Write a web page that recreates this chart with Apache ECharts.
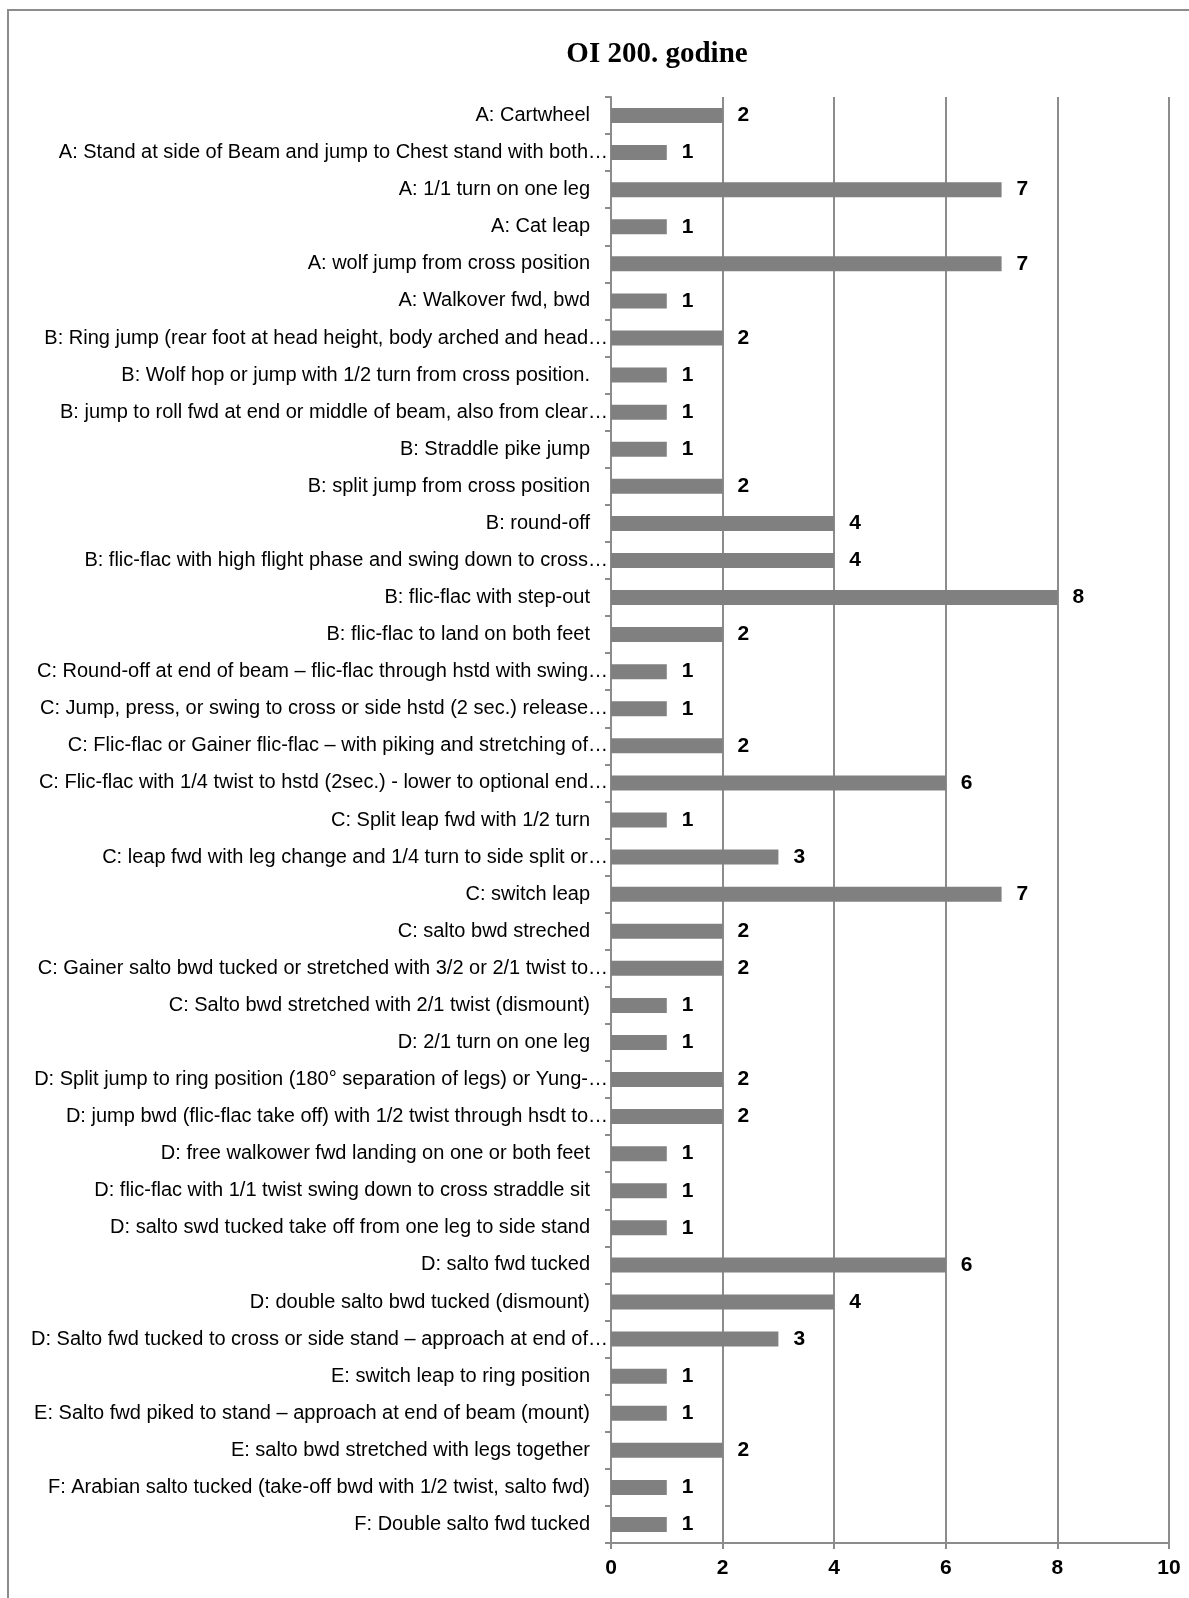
<!DOCTYPE html>
<html>
<head>
<meta charset="utf-8">
<script src="https://cdn.jsdelivr.net/npm/echarts@6/dist/echarts.min.js"></script>
<style>
html,body{margin:0;padding:0;background:#fff;}
#chart{width:1189px;height:1598px;}
</style>
</head>
<body>
<div id="chart"></div>
<script>
var titleText = 'OI 200. godine';
var categories = [
'A: Cartwheel',
'A: Stand at side of Beam and jump to Chest stand with both…',
'A: 1/1 turn on one leg',
'A: Cat leap',
'A: wolf jump from cross position',
'A: Walkover fwd, bwd',
'B: Ring jump (rear foot at head height, body arched and head…',
'B: Wolf hop or jump with 1/2 turn from cross position.',
'B: jump to roll fwd at end or middle of beam, also from clear…',
'B: Straddle pike jump',
'B: split jump from cross position',
'B: round-off',
'B: flic-flac with high flight phase and swing down to cross…',
'B: flic-flac with step-out',
'B: flic-flac to land on both feet',
'C: Round-off at end of beam – flic-flac through hstd with swing…',
'C: Jump, press, or swing to cross or side hstd (2 sec.) release…',
'C: Flic-flac or Gainer flic-flac – with piking and stretching of…',
'C: Flic-flac with 1/4 twist to hstd (2sec.) - lower to optional end…',
'C: Split leap fwd with 1/2 turn',
'C: leap fwd with leg change and 1/4 turn to side split or…',
'C: switch leap',
'C: salto bwd streched',
'C: Gainer salto bwd tucked or stretched with 3/2 or 2/1 twist to…',
'C: Salto bwd stretched with 2/1 twist (dismount)',
'D: 2/1 turn on one leg',
'D: Split jump to ring position (180° separation of legs) or Yung-…',
'D: jump bwd (flic-flac take off) with 1/2 twist through hsdt to…',
'D: free walkower fwd landing on one or both feet',
'D: flic-flac with 1/1 twist swing down to cross straddle sit',
'D: salto swd tucked take off from one leg to side stand',
'D: salto fwd tucked',
'D: double salto bwd tucked (dismount)',
'D: Salto fwd tucked to cross or side stand – approach at end of…',
'E: switch leap to ring position',
'E: Salto fwd piked to stand – approach at end of beam (mount)',
'E: salto bwd stretched with legs together',
'F: Arabian salto tucked (take-off bwd with 1/2 twist, salto fwd)',
'F: Double salto fwd tucked'
];
var values = [2,1,7,1,7,1,2,1,1,1,2,4,4,8,2,1,1,2,6,1,3,7,2,2,1,1,2,2,1,1,1,6,4,3,1,1,2,1,1];
var xTicks = [0,2,4,6,8,10];

var sans = '"Liberation Sans",Arial,sans-serif';
var chart = echarts.init(document.getElementById('chart'));
chart.setOption({
  animation:false,
  backgroundColor:'#fff',
  graphic:[{type:'rect',shape:{x:8,y:10,width:1300,height:1700},style:{fill:'none',stroke:'#8c8c8c',lineWidth:2},silent:true}],
  title:{text:titleText,left:652,top:35,textAlign:'center',
    textStyle:{fontFamily:'"Liberation Serif","Times New Roman",serif',fontWeight:'bold',fontSize:29,color:'#000'}},
  grid:{left:611,right:20,top:97,bottom:55,containLabel:false,outerBoundsMode:'none'},
  xAxis:{type:'value',min:xTicks[0],max:xTicks[xTicks.length-1],interval:2,
    axisLine:{show:true,lineStyle:{color:'#8c8c8c',width:2}},
    axisTick:{show:true,length:6,lineStyle:{color:'#8c8c8c',width:2}},
    splitLine:{show:true,lineStyle:{color:'#8c8c8c',width:2}},
    axisLabel:{margin:15,color:'#000',fontFamily:sans,fontWeight:'bold',fontSize:21}},
  yAxis:{type:'category',inverse:true,data:categories,
    axisLine:{show:true,lineStyle:{color:'#8c8c8c',width:2}},
    axisTick:{show:true,length:6,lineStyle:{color:'#8c8c8c',width:2}},
    axisLabel:{margin:3,interval:0,
      formatter:function(v){ return v.slice(-1)==='…' ? '{t|'+v+'}' : '{n|'+v+'}'; },
      rich:{
        t:{color:'#000',fontFamily:sans,fontSize:20},
        n:{color:'#000',fontFamily:sans,fontSize:20,padding:[0,18,0,0]}
      }}},
  series:[{type:'bar',data:values,barWidth:15,
    itemStyle:{color:'#808080'},
    label:{show:true,position:'right',distance:15,color:'#000',fontFamily:sans,fontWeight:'bold',fontSize:21}}]
});
</script>
</body>
</html>
